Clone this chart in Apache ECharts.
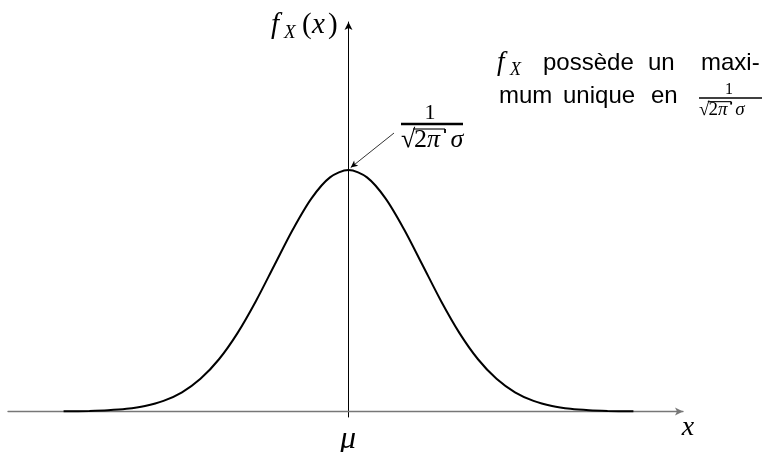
<!DOCTYPE html>
<html>
<head>
<meta charset="utf-8">
<script src="https://cdn.jsdelivr.net/npm/echarts@6/dist/echarts.min.js"></script>
<style>
  html, body { margin: 0; padding: 0; background: #ffffff; }
  #chart { width: 763px; height: 452px; }
</style>
</head>
<body>
<div id="chart"></div>
<script>
// Normal density f_X, abscissa measured in units of sigma around mu
const xValues = [-3.85, -3.5, -3.25, -3.0, -2.75, -2.5, -2.25, -2.0, -1.75, -1.5, -1.25, -1.0, -0.75, -0.5, -0.25,
                 0,
                 0.25, 0.5, 0.75, 1.0, 1.25, 1.5, 1.75, 2.0, 2.25, 2.5, 2.75, 3.0, 3.25, 3.5, 3.85];
const densityValues = [0.0002, 0.0009, 0.0020, 0.0044, 0.0091, 0.0175, 0.0317, 0.0540, 0.0863, 0.1295, 0.1826, 0.2420, 0.3011, 0.3521, 0.3867,
                       0.3989,
                       0.3867, 0.3521, 0.3011, 0.2420, 0.1826, 0.1295, 0.0863, 0.0540, 0.0317, 0.0175, 0.0091, 0.0044, 0.0020, 0.0009, 0.0002];
// Maximum of the density, reached at mu
const peakPoint = [0, 0.3989];

const curve = xValues.map((x, i) => [x, densityValues[i]]);

const SERIF = '"Liberation Serif", "DejaVu Serif", serif';
const SANS = '"Liberation Sans", "DejaVu Sans", sans-serif';

function txt(x, y, s, size, opts) {
  opts = opts || {};
  return {
    type: 'text', x: x, y: y, silent: true,
    style: {
      text: s,
      fontFamily: opts.family || SERIF,
      fontSize: size,
      fontStyle: opts.italic ? 'italic' : 'normal',
      fill: '#000',
      align: opts.align || 'left',
      verticalAlign: 'middle'
    }
  };
}
function hline(x1, x2, y, w) {
  return { type: 'line', silent: true, shape: { x1: x1, y1: y, x2: x2, y2: y }, style: { stroke: '#000', lineWidth: w } };
}
function vline(x, y1, y2, w) {
  return { type: 'line', silent: true, shape: { x1: x, y1: y1, x2: x, y2: y2 }, style: { stroke: '#000', lineWidth: w } };
}
// Fraction 1 / (sqrt(2 pi) sigma), laid out from its left edge and bar height
function fraction(x0, width, barY, numSize, denSize, barW) {
  const k = denSize / 26;
  const dy = barY + denSize * 0.64;
  return [
    txt(x0 + width / 2 - 2 * k, barY - numSize * 0.5, '1', numSize, { align: 'center' }),
    hline(x0, x0 + width, barY, barW),
    txt(x0, dy, '\u221A', denSize),
    hline(x0 + 12 * k, x0 + 44 * k, barY + 5 * k, 1.1),
    vline(x0 + 44 * k, barY + 5 * k, barY + 9 * k, 1.8),
    txt(x0 + 13 * k, dy, '2', denSize),
    txt(x0 + 26 * k, dy, '\u03C0', denSize, { italic: true }),
    txt(x0 + 49.5 * k, dy, '\u03C3', denSize, { italic: true })
  ];
}

const chart = echarts.init(document.getElementById('chart'), null, { renderer: 'canvas' });

const graphics = [].concat(
  // axis names
  [
    txt(271, 25, 'f', 29, { italic: true }),
    txt(284, 33, 'X', 19, { italic: true }),
    txt(302, 25, '(', 29),
    txt(312, 25, 'x', 29, { italic: true }),
    txt(328, 25, ')', 29),
    txt(348, 440, '\u03BC', 32, { italic: true, align: 'center' }),
    txt(688, 428, 'x', 28, { italic: true, align: 'center' })
  ],
  // value of the maximum next to the peak
  fraction(401, 62, 124, 22, 26, 2.6),
  // side note
  [
    txt(497, 63, 'f', 27, { italic: true }),
    txt(510, 70, 'X', 18, { italic: true }),
    txt(543, 63, 'possède', 24, { family: SANS }),
    txt(648, 63, 'un', 24, { family: SANS }),
    txt(701, 63, 'maxi-', 24, { family: SANS }),
    txt(499, 96, 'mum', 24, { family: SANS }),
    txt(563, 96, 'unique', 24, { family: SANS }),
    txt(651, 96, 'en', 24, { family: SANS })
  ],
  fraction(699, 63, 98, 16, 19, 1.6)
);

chart.setOption({
  animation: false,
  backgroundColor: '#ffffff',
  grid: { left: 8, right: 80, top: 22, bottom: 35, containLabel: false },
  xAxis: {
    type: 'value', min: -4.601, max: 4.52,
    axisLine: { onZero: true, symbol: ['none', 'arrow'], symbolSize: [6, 8],
                lineStyle: { color: '#777777', width: 1.3 } },
    axisTick: { show: false }, axisLabel: { show: false }, splitLine: { show: false }
  },
  yAxis: {
    type: 'value', min: -0.0091, max: 0.6434,
    axisLine: { onZero: true, symbol: ['none', 'arrow'], symbolSize: [6, 8],
                lineStyle: { color: '#000000', width: 1 } },
    axisTick: { show: false }, axisLabel: { show: false }, splitLine: { show: false }
  },
  series: [{
    type: 'line',
    data: curve,
    showSymbol: false,
    smooth: 0.3,
    lineStyle: { color: '#000000', width: 2 },
    silent: true,
    markLine: {
      silent: true,
      symbol: ['none', 'arrow'],
      symbolSize: [5, 7],
      label: { show: false },
      lineStyle: { color: '#000000', width: 0.8, type: 'solid' },
      data: [[{ coord: [0.615, 0.46] }, { coord: [peakPoint[0] + 0.03, peakPoint[1] + 0.004] }]]
    }
  }],
  graphic: graphics
});
</script>
</body>
</html>
